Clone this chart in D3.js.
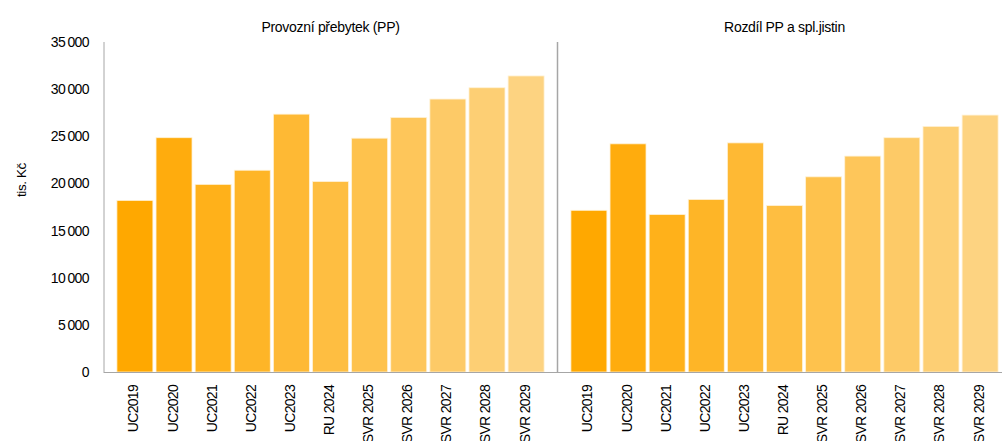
<!DOCTYPE html>
<html>
<head>
<meta charset="utf-8">
<script src="https://cdn.jsdelivr.net/npm/d3@7"></script>
<style>
  body { margin: 0; background: #fff; }
  text { font-family: "Liberation Sans", Arial, sans-serif; fill: #000; }
</style>
</head>
<body>
<script>
// data
var categories = ["UC2019", "UC2020", "UC2021", "UC2022", "UC2023", "RU 2024",
  "SVR 2025", "SVR 2026", "SVR 2027", "SVR 2028", "SVR 2029"];
var provozniPrebytek = [18200, 24850, 19900, 21400, 27350, 20200, 24800, 27000, 28950, 30150, 31400];
var rozdilPP = [17150, 24200, 16700, 18300, 24300, 17650, 20700, 22900, 24850, 26050, 27250];
var panelTitles = ["Provozní přebytek (PP)", "Rozdíl PP a spl.jistin"];
var yTicks = [0, 5000, 10000, 15000, 20000, 25000, 30000, 35000];

var svgWidth = 1002;
var svgHeight = 441;

var svg = d3.select("body")
  .append("svg")
  .attr("width", svgWidth)
  .attr("height", svgHeight);

// shared y scale
var yScale = d3.scaleLinear()
  .domain([0, 35000])
  .range([372, 42]);

// colour fades from orange to light orange along categories
var colorScale = d3.scaleLinear()
  .domain([0, categories.length - 1])
  .range(["#ffa800", "#fdd381"])
  .interpolate(d3.interpolateRgb);

var fmt = function(d) {
  return d3.format(",")(d).replace(/,/g, "\u2009");
};

// y axis labels
var yAxis = svg.append("g");
yAxis.selectAll("text")
  .data(yTicks)
  .join("text")
  .attr("x", 89)
  .attr("y", d => yScale(d) + 5)
  .attr("text-anchor", "end")
  .style("font-size", "14px")
  .style("letter-spacing", "-0.6px")
  .text(fmt);

svg.append("text")
  .attr("transform", "translate(26, 180) rotate(-90)")
  .attr("text-anchor", "middle")
  .style("font-size", "13.5px")
  .style("letter-spacing", "-0.4px")
  .text("tis. Kč");

var panels = [
  { x0: 104, x1: 557, values: provozniPrebytek, title: panelTitles[0] },
  { x0: 558, x1: 1011, values: rozdilPP, title: panelTitles[1] }
];

panels.forEach(function(p) {
  var xScale = d3.scaleBand()
    .domain(categories)
    .range([p.x0, p.x1])
    .paddingInner(0.08)
    .paddingOuter(0.33);

  var g = svg.append("g");

  g.selectAll("rect")
    .data(p.values)
    .join("rect")
    .attr("x", (d, i) => xScale(categories[i]))
    .attr("y", d => yScale(d))
    .attr("width", xScale.bandwidth())
    .attr("height", d => yScale(0) - yScale(d))
    .attr("fill", (d, i) => colorScale(i))
    .attr("stroke", "#fff2d6")
    .attr("stroke-width", 0.8);

  // x labels, rotated
  g.selectAll("text.xl")
    .data(categories)
    .join("text")
    .attr("class", "xl")
    .attr("transform", d => `translate(${xScale(d) + xScale.bandwidth() / 2 + 3.5}, 385) rotate(-90)`)
    .attr("text-anchor", "end")
    .style("font-size", "14px")
    .style("letter-spacing", "-0.7px")
    .text(d => d);

  g.append("text")
    .attr("x", (p.x0 + p.x1) / 2)
    .attr("y", 32)
    .attr("text-anchor", "middle")
    .style("font-size", "14px")
    .style("letter-spacing", "-0.3px")
    .text(p.title);
});

// frame lines
svg.append("line")
  .attr("x1", 104).attr("x2", 1002)
  .attr("y1", 372.5).attr("y2", 372.5)
  .attr("stroke", "#a6a6a6").attr("stroke-width", 1);
[104, 557.5].forEach(function(x) {
  svg.append("line")
    .attr("x1", x).attr("x2", x)
    .attr("y1", 42).attr("y2", 373)
    .attr("stroke", "#a6a6a6").attr("stroke-width", x > 200 ? 1.5 : 1);
});
</script>
</body>
</html>
